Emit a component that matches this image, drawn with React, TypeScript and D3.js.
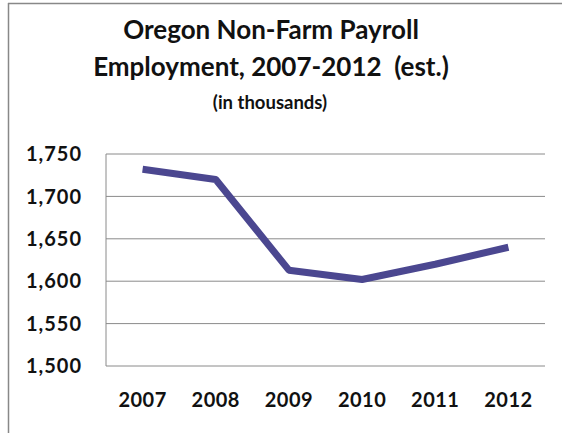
import React from "react";
import * as d3 from "d3";

const years = ["2007", "2008", "2009", "2010", "2011", "2012"];
const employment = [1732, 1720, 1613, 1602, 1620, 1640];
const yTicks = [1500, 1550, 1600, 1650, 1700, 1750];

const W = 562;
const H = 433;
const m = { left: 106, right: 545, top: 154, bottom: 366 };
const font = "Lato, 'Open Sans', sans-serif";

export default function App() {
  const x = d3.scaleBand<string>().domain(years).range([m.left, m.right]).padding(0);
  const y = d3.scaleLinear().domain([1500, 1750]).range([m.bottom, m.top]);
  const fmt = d3.format(",");
  const cx = (yr: string) => (x(yr) as number) + x.bandwidth() / 2;
  const line = d3
    .line<number>()
    .x((_, i) => cx(years[i]))
    .y((d) => y(d));

  return (
    <svg
      width={W}
      height={H}
      style={{ position: "absolute", left: 0, top: 0, display: "block", background: "#fff" }}
    >
      <rect x={0} y={0} width={W} height={H} fill="#fff" />
      {/* outer frame */}
      <line x1={8} x2={W} y1={3.5} y2={3.5} stroke="#888" strokeWidth={1.5} />
      <line x1={8.5} x2={8.5} y1={3} y2={H} stroke="#888" strokeWidth={1.5} />

      {/* title */}
      <text x={271} y={39} textAnchor="middle" fontFamily={font} fontWeight="bold" fontSize={26} fill="#111">
        Oregon Non-Farm Payroll
      </text>
      <text x={271} y={76} textAnchor="middle" fontFamily={font} fontWeight="bold" fontSize={26} fill="#111" style={{ whiteSpace: "pre" }}>
        Employment, 2007-2012  (est.)
      </text>
      <text x={270} y={109} textAnchor="middle" fontFamily={font} fontWeight="bold" fontSize={18.5} fill="#111">
        (in thousands)
      </text>

      {/* gridlines */}
      {yTicks.map((t) => (
        <line key={t} x1={m.left} x2={m.right} y1={y(t)} y2={y(t)} stroke="#8a8a8a" strokeWidth={1} />
      ))}
      <line x1={m.left} x2={m.left} y1={m.top} y2={m.bottom} stroke="#8a8a8a" strokeWidth={1} />

      {/* y labels */}
      {yTicks.map((t) => (
        <text key={t} x={82} y={y(t)} dy="0.36em" textAnchor="end" fontFamily={font} fontWeight="bold" fontSize={20} letterSpacing={1} fill="#111">
          {fmt(t)}
        </text>
      ))}

      {/* x labels */}
      {years.map((yr) => (
        <text key={yr} x={cx(yr)} y={407} textAnchor="middle" fontFamily={font} fontWeight="bold" fontSize={20} letterSpacing={0.5} fill="#111">
          {yr}
        </text>
      ))}

      {/* series */}
      <path d={line(employment) || ""} fill="none" stroke="#4b4790" strokeWidth={7} strokeLinejoin="round" strokeLinecap="butt" />
    </svg>
  );
}
